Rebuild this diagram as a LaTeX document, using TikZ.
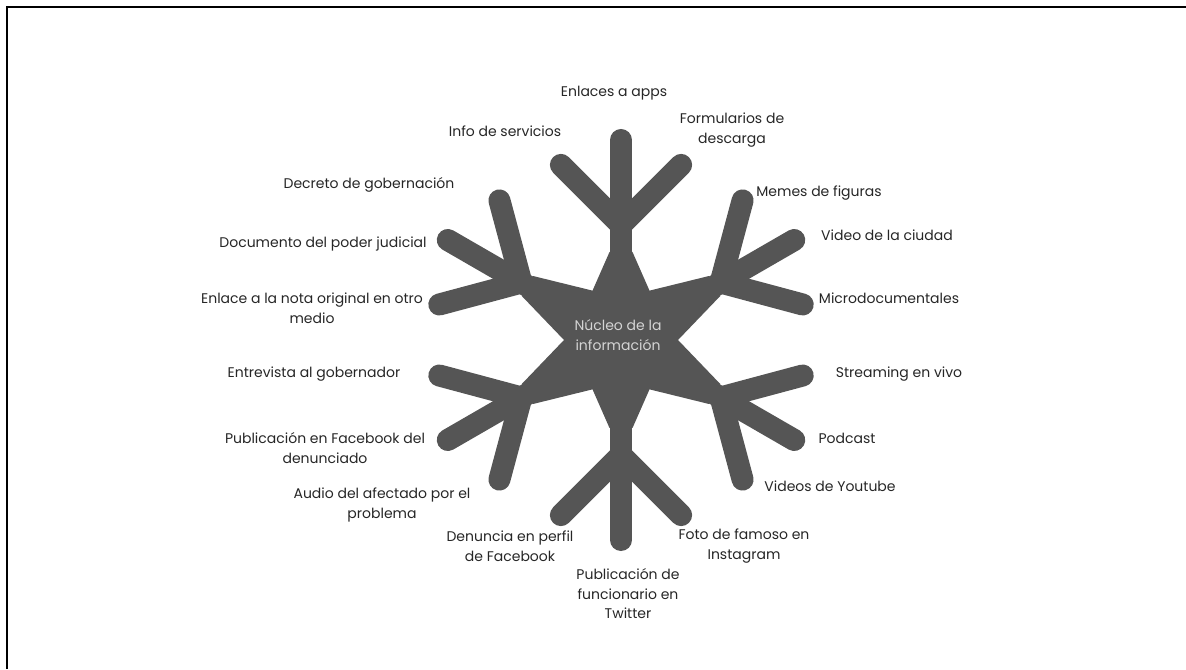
\documentclass[tikz,border=0pt]{standalone}
\usepackage{fontspec}
\setmainfont{Poppins}
\usetikzlibrary{calc}
\definecolor{flakegray}{HTML}{555555}
\definecolor{labelgray}{HTML}{262626}
\definecolor{coregray}{HTML}{D4D4D4}
\begin{document}
\begin{tikzpicture}[x=0.5pt,y=0.5pt,
		flake/.style={draw=flakegray, line width=11pt, line cap=round},
		leaf/.style={font=\fontsize{7}{9.75}\selectfont, text=labelgray, align=center, inner sep=0pt},
	]
		
		\useasboundingbox (0,0) rectangle (1186,669);
		\draw[line width=1pt] (7,0) -- (7,662) -- (1186,662);
		
		\coordinate (c) at (621,329);
		
		% hexagon body and the widened foot of every arm, in one path
		\fill[flakegray] (c) ++(0:57) -- ++(120:57) -- ++(180:57) -- ++(240:57) -- ++(300:57) -- ++(0:57) -- cycle
			\foreach \a/\t in {90/88,30/108,-30/108,-90/88,-150/108,150/108}{
				($(c)+(\a-30:57)$) -- ($(c)+(\a:\t)+(\a-90:11.5)$) -- ($(c)+(\a:\t)+(\a+90:11.5)$) -- ($(c)+(\a+30:57)$) -- cycle
			};
		
		% six arms, each with two side branches
		\foreach \a [count=\i] in {90,30,-30,-90,-150,150}{
			\coordinate (j\i) at ($(c)+(\a:115)$);
			\draw[flake] (c) -- (j\i) -- ++(\a:85);
			\draw[flake] (j\i) -- ++(\a+45:85);
			\draw[flake] (j\i) -- ++(\a-45:85);
		}
		
		\node[leaf, text=coregray] (nucleo) at (618,334) {Núcleo de la\\información};
		
		\node[leaf] (apps) at (614,576) {Enlaces a apps};
		\node[leaf] (servicios) at (505,538) {Info de servicios};
		\node[leaf] (formularios) at (732,539) {Formularios de\\descarga};
		\node[leaf] (decreto) at (369,484) {Decreto de gobernación};
		\node[leaf] (documento) at (323,425) {Documento del poder judicial};
		\node[leaf] (enlace) at (312,361) {Enlace a la nota original en otro\\medio};
		\node[leaf] (entrevista) at (314,295) {Entrevista al gobernador};
		\node[leaf] (pubfb) at (325,221) {Publicación en Facebook del\\denunciado};
		\node[leaf] (audio) at (382,164) {Audio del afectado por el\\problema};
		\node[leaf] (denuncia) at (510,123) {Denuncia en perfil\\de Facebook};
		\node[leaf] (pubtw) at (628,75) {Publicación de\\funcionario en\\Twitter};
		\node[leaf] (foto) at (744,123) {Foto de famoso en\\Instagram};
		\node[leaf] (memes) at (819,476) {Memes de figuras};
		\node[leaf] (video) at (887,434) {Video de la ciudad};
		\node[leaf] (micro) at (889,371) {Microdocumentales};
		\node[leaf] (streaming) at (899,295) {Streaming en vivo};
		\node[leaf] (podcast) at (847,231) {Podcast};
		\node[leaf] (youtube) at (830,183) {Videos de Youtube};
		
	\end{tikzpicture}
\end{document}
